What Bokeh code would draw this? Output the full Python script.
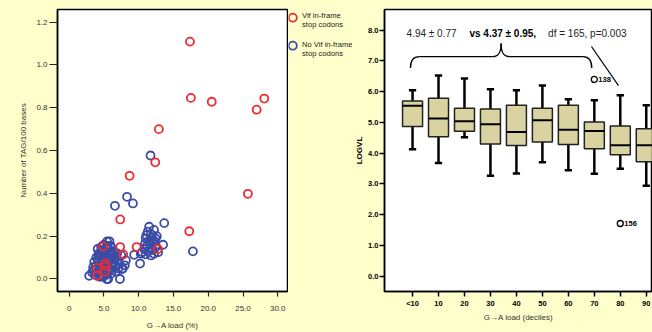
from bokeh.plotting import figure
from bokeh.layouts import row
from bokeh.models import FixedTicker, Label
from bokeh.core.properties import value
from bokeh.embed import file_html
from bokeh.resources import INLINE

BG = "#FFFFCC"
FONT = "Liberation Sans"
RED = "#EC2B32"
BLUE = "#3A4CA6"
KHAKI = "#D8D3A0"
TOP, BOTTOM = 9, 37

# ---------------- scatter data (G->A load %, TAG/100 bases) ----------------
red_x = [17.37, 17.5, 20.5, 26.96, 28.06, 12.9, 12.38, 8.69, 25.7, 7.34, 17.27,
         4.85, 7.34, 9.7, 7.77, 12.76, 5.18, 4.0, 5.14, 4.0, 5.3]
red_y = [1.109, 0.846, 0.828, 0.791, 0.843, 0.700, 0.545, 0.482, 0.398, 0.278, 0.223,
         0.152, 0.149, 0.149, 0.115, 0.140, 0.072, 0.052, 0.034, 0.015, 0.060]

blue_x = [11.7, 8.32, 9.17, 6.58, 13.67, 11.5, 12.2, 11.3, 11.76, 17.8, 13.5, 10.2,
          9.35, 10.3, 11.76, 12.2, 11.0, 11.5, 12.0, 12.4, 11.2, 11.8, 12.5, 10.8,
          11.4, 12.0, 12.8, 10.5, 11.0, 11.6, 12.3, 10.9, 11.9, 12.6, 11.1,
          2.88, 5.4, 7.3, 7.58, 8.0, 8.16, 5.8, 7.7,
          3.5, 3.8, 4.0, 4.2, 4.4, 4.5, 4.6, 4.7, 4.8, 4.9, 5.0, 5.1, 5.2, 5.3, 5.4,
          5.5, 5.6, 5.7, 5.8, 5.9, 6.0, 6.1, 6.2, 6.3, 6.5, 6.6, 6.8, 7.0, 7.2, 4.3,
          4.1, 4.6, 5.0, 5.5, 6.0, 3.9, 3.6, 3.3, 4.9, 5.6, 5.2, 4.4, 6.4, 6.9, 7.5,
          5.3, 4.8, 5.9, 6.7, 7.1, 3.7, 5.75, 4.25, 6.25, 5.45,
          4.55, 5.05, 5.65, 6.15, 4.15, 3.45, 6.55, 5.25, 4.75, 6.05, 5.95, 4.35]
blue_y = [0.577, 0.384, 0.353, 0.342, 0.261, 0.244, 0.229, 0.221, 0.210, 0.129, 0.160, 0.072,
          0.113, 0.118, 0.110, 0.118, 0.190, 0.180, 0.170, 0.190, 0.155, 0.145, 0.150, 0.140,
          0.130, 0.135, 0.125, 0.125, 0.115, 0.165, 0.175, 0.165, 0.195, 0.200, 0.205,
          0.015, 0.000, 0.000, 0.046, 0.064, 0.087, 0.176, 0.049,
          0.04, 0.06, 0.03, 0.08, 0.05, 0.10, 0.02, 0.07, 0.12, 0.04, 0.09, 0.13, 0.06, 0.11, 0.02,
          0.08, 0.14, 0.05, 0.10, 0.12, 0.07, 0.09, 0.04, 0.11, 0.08, 0.06, 0.10, 0.09, 0.07, 0.12,
          0.14, 0.15, 0.16, 0.155, 0.15, 0.10, 0.08, 0.03, 0.01, 0.00, 0.03, 0.01, 0.13, 0.12, 0.11,
          0.145, 0.085, 0.045, 0.035, 0.05, 0.02, 0.125, 0.115, 0.065, 0.175,
          0.115, 0.105, 0.085, 0.125, 0.095, 0.055, 0.095, 0.025, 0.135, 0.025, 0.155, 0.065]

scatter_xticks = [0, 5, 10, 15, 20, 25, 30]
scatter_xlabels = ["0", "5.0", "10.0", "15.0", "20.0", "25.0", "30.0"]
scatter_yticks = [0.0, 0.2, 0.4, 0.6, 0.8, 1.0, 1.2]
scatter_ylabels = ["0.0", "0.2", "0.4", "0.6", "0.8", "1.0", "1.2"]
legend_labels = [["Vif in-frame", "stop codons"], ["No Vif in-frame", "stop codons"]]

# ---------------- box plot data (LOGVL by G->A load decile) ----------------
deciles = ["<10", "10", "20", "30", "40", "50", "60", "70", "80", "90"]
w_low = [4.13, 3.68, 4.52, 3.26, 3.34, 3.70, 3.44, 3.33, 3.49, 2.94]
q1 = [4.87, 4.53, 4.71, 4.30, 4.25, 4.36, 4.28, 4.14, 3.95, 3.72]
median = [5.54, 5.13, 5.04, 4.94, 4.69, 5.07, 4.76, 4.72, 4.26, 4.26]
q3 = [5.70, 5.79, 5.46, 5.44, 5.56, 5.46, 5.56, 5.01, 4.88, 4.79]
w_high = [6.05, 6.53, 6.43, 6.08, 6.05, 6.20, 5.75, 5.72, 5.88, 5.56]
outlier_decile = ["70", "80"]
outlier_value = [6.40, 1.71]
outlier_label = ["138", "156"]
box_yticks = [0, 1, 2, 3, 4, 5, 6, 7, 8]
box_ylabels = ["0.0", "1.0", "2.0", "3.0", "4.0", "5.0", "6.0", "7.0", "8.0"]

# ============================ left: scatter ============================
p1 = figure(width=288, height=332, x_range=(-1.68, 31.4), y_range=(-0.0585, 1.259),
            title=None, output_backend="svg", toolbar_location=None,
            min_border_left=57, min_border_right=1, min_border_top=TOP, min_border_bottom=BOTTOM,
            background_fill_color="white", border_fill_color=BG,
            outline_line_color="black", outline_line_width=1.5)
p1.grid.visible = False

p1.scatter(blue_x, blue_y, marker="circle", size=8, fill_color=None,
           line_color=BLUE, line_width=1.8)
p1.scatter(red_x, red_y, marker="circle", size=8, fill_color=None,
           line_color=RED, line_width=1.8)

for ax in (p1.xaxis[0], p1.yaxis[0]):
    ax.major_tick_in = 0
    ax.minor_tick_line_color = None
    ax.axis_line_color = "black"
    ax.axis_line_width = 1.5
    ax.major_tick_line_color = "#222222"
    ax.major_tick_line_width = 1.2
    ax.major_label_text_font = FONT
    ax.major_label_text_font_size = "8px"
    ax.major_label_text_color = "#333333"
    ax.axis_label_text_font = FONT
    ax.axis_label_text_font_size = "8px"
    ax.axis_label_text_font_style = "normal"
    ax.axis_label_text_color = "#333333"

p1.xaxis.ticker = FixedTicker(ticks=scatter_xticks)
p1.xaxis.major_label_overrides = dict(zip(scatter_xticks, scatter_xlabels))
p1.xaxis.major_tick_out = 5
p1.xaxis.major_label_standoff = 9
p1.xaxis.axis_label = "G\u2192A load (%)"
p1.xaxis.axis_label_standoff = 7

p1.yaxis.ticker = FixedTicker(ticks=scatter_yticks)
p1.yaxis.major_label_overrides = dict(zip(scatter_yticks, scatter_ylabels))
p1.yaxis.major_tick_out = 8
p1.yaxis.major_label_standoff = 2
p1.yaxis.axis_label = "Number of TAG/100 bases"
p1.yaxis.axis_label_standoff = 5

# ============================ legend panel ============================
pl = figure(width=64, height=332, x_range=(0, 64), y_range=(332 - BOTTOM, TOP), title=None,
            output_backend="svg", toolbar_location=None,
            x_axis_type=None, y_axis_type=None,
            min_border_left=0, min_border_right=0, min_border_top=TOP, min_border_bottom=BOTTOM,
            background_fill_color=BG, border_fill_color=BG, outline_line_color=None)
pl.grid.visible = False
pl.scatter([4.3, 4.3], [17.3, 45.7], marker="circle", size=8, fill_color=None,
           line_color=[RED, BLUE], line_width=1.8)
pl.text([13.5, 13.5, 13.5, 13.5], [15.3, 24.0, 45.0, 54.0],
        text=legend_labels[0] + legend_labels[1], text_baseline="middle",
        text_font=value(FONT), text_font_size="7.6px", text_color="#222222")

# ============================ right: box plot ============================
idx = list(range(len(deciles)))
p2 = figure(width=300, height=332, x_range=(-1.08, 9.24), y_range=(-0.504, 8.675),
            title=None, output_backend="svg", toolbar_location=None,
            min_border_left=27, min_border_right=0, min_border_top=TOP, min_border_bottom=BOTTOM,
            background_fill_color="white", border_fill_color=BG,
            outline_line_color="black", outline_line_width=1.5)
p2.grid.visible = False

cap = 0.14
half = 0.385
p2.segment(idx, q3, idx, w_high, line_color="black", line_width=2.5)
p2.segment(idx, q1, idx, w_low, line_color="black", line_width=2.5)
p2.segment([i - cap for i in idx], w_high, [i + cap for i in idx], w_high, line_color="black", line_width=2.5)
p2.segment([i - cap for i in idx], w_low, [i + cap for i in idx], w_low, line_color="black", line_width=2.5)
p2.vbar(x=idx, width=2 * half, bottom=q1, top=q3, fill_color=KHAKI,
        line_color="#222222", line_width=1.5)
p2.segment([i - half for i in idx], median, [i + half for i in idx], median,
           line_color="black", line_width=2)

o_x = [deciles.index(d) for d in outlier_decile]
p2.scatter(o_x, outlier_value, marker="circle", size=6, fill_color=None,
           line_color="black", line_width=1.3)
p2.text(o_x, outlier_value, text=outlier_label, x_offset=4, text_baseline="middle",
        text_font=value(FONT), text_font_size="7.5px", text_font_style="bold",
        text_color="black")

# brace over first eight deciles
xL, xR = -0.08, 6.9
xm = (xL + xR) / 2
y_end, y_bar, y_peak = 6.77, 7.14, 7.57
cw = 0.34
p2.bezier(x0=[xL, xR, xm - cw, xm + cw], y0=[y_end, y_end, y_bar, y_bar],
          x1=[xL + cw, xR - cw, xm, xm], y1=[y_bar, y_bar, y_peak, y_peak],
          cx0=[xL, xR, xm - 0.1, xm + 0.1], cy0=[y_bar - 0.12, y_bar - 0.12, y_bar, y_bar],
          cx1=[xL + 0.1, xR - 0.1, xm, xm], cy1=[y_bar, y_bar, y_bar + 0.12, y_bar + 0.12],
          line_color="black", line_width=1.4)
p2.segment([xL + cw, xm + cw], [y_bar, y_bar], [xm - cw, xR - cw], [y_bar, y_bar],
           line_color="black", line_width=1.4)
p2.segment([6.89], [7.47], [7.93], [6.20], line_color="black", line_width=1.2)

ty = 7.89
p2.add_layout(Label(x=-0.23, y=ty, text="4.94 \u00b1 0.77", text_font=FONT,
                    text_font_size="10px", text_baseline="middle", text_color="#222222"))
p2.add_layout(Label(x=2.19, y=ty, text="vs 4.37 \u00b1 0.95,", text_font=FONT,
                    text_font_size="10px", text_font_style="bold", text_baseline="middle",
                    text_color="black"))
p2.add_layout(Label(x=5.22, y=ty, text="df = 165, p=0.003", text_font=FONT,
                    text_font_size="10px", text_baseline="middle", text_color="#222222"))

for ax in (p2.xaxis[0], p2.yaxis[0]):
    ax.major_tick_in = 0
    ax.major_tick_out = 5
    ax.minor_tick_line_color = None
    ax.axis_line_color = "black"
    ax.axis_line_width = 1.5
    ax.major_tick_line_color = "black"
    ax.major_tick_line_width = 1.5
    ax.major_label_text_font = FONT
    ax.major_label_text_font_size = "7.5px"
    ax.major_label_text_font_style = "bold"
    ax.major_label_text_color = "black"
    ax.axis_label_text_font = FONT
    ax.axis_label_text_font_size = "8px"

p2.xaxis.ticker = FixedTicker(ticks=idx)
p2.xaxis.major_label_overrides = dict(zip(idx, deciles))
p2.xaxis.major_label_standoff = 2
p2.xaxis.axis_label = "G\u2192A load (deciles)"
p2.xaxis.axis_label_text_font_style = "normal"
p2.xaxis.axis_label_text_color = "#333333"
p2.xaxis.axis_label_standoff = 2

p2.yaxis.ticker = FixedTicker(ticks=box_yticks)
p2.yaxis.major_label_overrides = dict(zip(box_yticks, box_ylabels))
p2.yaxis.major_label_standoff = 1
p2.yaxis.axis_label = "LOGVL"
p2.yaxis.axis_label_text_font_style = "bold"
p2.yaxis.axis_label_text_color = "black"
p2.yaxis.axis_label_standoff = 1

layout = row(p1, pl, p2, spacing=0)
html = file_html(layout, INLINE)
html = html.replace("</head>", "<style>html,body{margin:0;padding:0;background-color:#FFFFCC;}</style></head>", 1)
open("out.html", "w").write(html)
